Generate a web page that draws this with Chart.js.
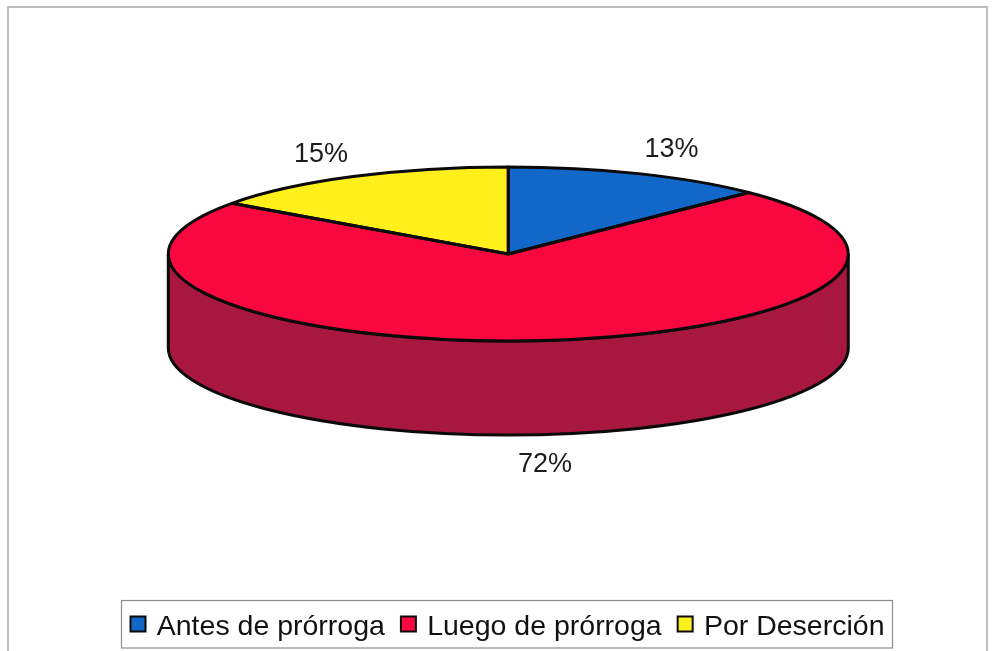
<!DOCTYPE html>
<html>
<head>
<meta charset="utf-8">
<title>Prórroga</title>
<script src="https://cdn.jsdelivr.net/npm/chart.js@4/dist/chart.umd.min.js"></script>
<style>
  html, body { margin: 0; padding: 0; background: #fff; }
  canvas { display: block; filter: blur(0.5px); }
</style>
</head>
<body>
<canvas id="chart" width="996" height="651"></canvas>
<script>
const categories = ['Antes de prórroga', 'Luego de prórroga', 'Por Deserción'];
const percentages = [12.5, 72.4, 15.1];

const sliceColors = ['#1268C8', '#F8083F', '#FFEF1A'];
const wallColors = ['#0C4688', '#A8173F', '#B0A512'];
const labelOffsets = [[33, -24], [9, 124], [-32, -22]];

const FONT = '"Liberation Sans", Arial, sans-serif';
const pie = { x: 508.3, y: 254, rx: 340, ry: 87, depth: 94 };
const legendBoxSize = 15;

// squashes the flat pie into an ellipse and adds the side wall
const pie3d = {
    id: 'pie3d',
    beforeDraw(chart) {
        const ctx = chart.ctx;
        ctx.save();
        ctx.fillStyle = '#ffffff';
        ctx.fillRect(0, 0, chart.width, chart.height);
        ctx.strokeStyle = '#a8a8a8';
        ctx.lineWidth = 1.5;
        ctx.strokeRect(8, 7, 979, 660);
        ctx.restore();
    },
    beforeDatasetsDraw(chart) {
        const ctx = chart.ctx;
        const arcs = chart.getDatasetMeta(0).data;
        ctx.save();
        ctx.lineWidth = 3;
        ctx.strokeStyle = '#0a0a0a';
        arcs.forEach((arc, i) => {
            const start = Math.max(arc.startAngle, 0);
            const end = Math.min(arc.endAngle, Math.PI);
            if (end <= start) return;
            ctx.beginPath();
            ctx.ellipse(pie.x, pie.y, pie.rx, pie.ry, 0, start, end);
            ctx.ellipse(pie.x, pie.y + pie.depth, pie.rx, pie.ry, 0, end, start, true);
            ctx.closePath();
            ctx.fillStyle = wallColors[i];
            ctx.fill();
            ctx.stroke();
        });
        ctx.restore();

        ctx.save();
        ctx.translate(pie.x, pie.y);
        ctx.scale(1, pie.ry / pie.rx);
        ctx.translate(-arcs[0].x, -arcs[0].y);
    },
    afterDatasetsDraw(chart) {
        const ctx = chart.ctx;
        ctx.restore();
        const arcs = chart.getDatasetMeta(0).data;
        const total = percentages.reduce((a, b) => a + b, 0);
        ctx.save();
        ctx.lineWidth = 3;
        ctx.lineJoin = 'round';
        ctx.strokeStyle = '#0a0a0a';
        arcs.forEach(arc => {
            ctx.beginPath();
            ctx.moveTo(pie.x, pie.y);
            ctx.ellipse(pie.x, pie.y, pie.rx, pie.ry, 0, arc.startAngle, arc.endAngle);
            ctx.closePath();
            ctx.stroke();
        });
        ctx.fillStyle = '#1c1c1c';
        ctx.font = '27px ' + FONT;
        ctx.textAlign = 'center';
        ctx.textBaseline = 'middle';
        arcs.forEach((arc, i) => {
            const mid = (arc.startAngle + arc.endAngle) / 2;
            const x = pie.x + pie.rx * Math.cos(mid) + labelOffsets[i][0];
            const y = pie.y + pie.ry * Math.sin(mid) + labelOffsets[i][1];
            ctx.fillText(Math.round(percentages[i] / total * 100) + '%', x, y);
        });
        ctx.restore();
    },
    afterDraw(chart) {
        const ctx = chart.ctx;
        ctx.save();
        ctx.strokeStyle = '#8c8c8c';
        ctx.lineWidth = 1.2;
        ctx.strokeRect(121.5, 600.5, 771, 47.5);
        // the library leaves a wider gap before the text than the original, so the swatches are drawn here
        ctx.strokeStyle = '#0a0a0a';
        ctx.lineWidth = 2;
        chart.legend.legendHitBoxes.forEach((hit, i) => {
            ctx.fillStyle = sliceColors[i];
            ctx.fillRect(hit.left, hit.top + 4, legendBoxSize, legendBoxSize);
            ctx.strokeRect(hit.left, hit.top + 4, legendBoxSize, legendBoxSize);
        });
        ctx.restore();
    }
};

new Chart(document.getElementById('chart'), {
    type: 'pie',
    data: {
        labels: categories,
        datasets: [{
            data: percentages,
            backgroundColor: sliceColors,
            borderWidth: 0,
            clip: false
        }]
    },
    options: {
        responsive: false,
        animation: false,
        radius: pie.rx,
        layout: { padding: { left: 19, bottom: 0 } },
        plugins: {
            tooltip: { enabled: false },
            legend: {
                position: 'bottom',
                labels: {
                    color: '#111111',
                    boxWidth: 12,
                    boxHeight: 15,
                    padding: 16,
                    font: { family: FONT, size: 28.5 },
                    generateLabels() {
                        return categories.map((text, i) => ({
                            text,
                            fillStyle: 'rgba(0,0,0,0)',
                            strokeStyle: 'rgba(0,0,0,0)',
                            lineWidth: 0,
                            fontColor: '#111111',
                            index: i
                        }));
                    }
                }
            }
        }
    },
    plugins: [pie3d]
});
</script>
</body>
</html>
